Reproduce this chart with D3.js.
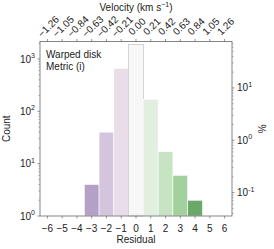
<!DOCTYPE html>
<html lang="en">
<head>
  <meta charset="utf-8">
  <title>Residual histogram</title>
  <script src="https://cdn.jsdelivr.net/npm/d3@7"></script>
  <style>
    body { margin: 0; background: #fff; }
    text { font-family: "Liberation Sans", Arial, sans-serif; fill: #222; }
  </style>
</head>
<body>
<script>
  // data
  const residuals = [-3, -2, -1, 0, 1, 2, 3, 4];
  const counts = [4, 40, 660, 1900, 170, 17, 6, 2];
  const barColors = ["#b5a0c8", "#d4c5df", "#e9dde9", "#f7f7f7", "#e2eee0", "#c6e4c1", "#a2d19e", "#6aa96a"];
  const xTicks = [-6, -5, -4, -3, -2, -1, 0, 1, 2, 3, 4, 5, 6];
  const velLabels = ["\u22121.26", "\u22121.05", "\u22120.84", "\u22120.63", "\u22120.42", "\u22120.21",
    "0.00", "0.21", "0.42", "0.63", "0.84", "1.05", "1.26"];

  const w = 274, h = 249;
  const mLeft = 40, mRight = 232, mTop = 41.5, mBottom = 216;
  const total = d3.sum(counts);
  const yMax = 2160;

  const svg = d3.select("body").append("svg")
    .attr("width", w)
    .attr("height", h);

  const x = d3.scaleLinear().domain([-6.5, 6.5]).range([mLeft, mRight]);
  const y = d3.scaleLog().domain([1, yMax]).range([mBottom, mTop]);
  const yp = d3.scaleLog().domain([100 / total, yMax * 100 / total]).range([mBottom, mTop]);

  // bars
  svg.selectAll("rect.bar")
    .data(residuals)
    .enter()
    .append("rect")
    .attr("class", "bar")
    .attr("x", d => x(d - 0.5))
    .attr("width", x(1) - x(0))
    .attr("y", (d, i) => y(counts[i]))
    .attr("height", (d, i) => mBottom - y(counts[i]))
    .attr("fill", (d, i) => barColors[i])
    .attr("stroke", (d, i) => i === 3 ? "#bdbdbd" : "#ffffff")
    .attr("stroke-width", 0.6);

  const axisColor = "#666";

  // frame
  svg.append("rect")
    .attr("x", mLeft).attr("y", mTop)
    .attr("width", mRight - mLeft).attr("height", mBottom - mTop)
    .attr("fill", "none").attr("stroke", axisColor).attr("stroke-width", 0.8);

  // bottom axis
  const gx = svg.append("g");
  xTicks.forEach(t => {
    gx.append("line").attr("x1", x(t)).attr("x2", x(t)).attr("y1", mBottom).attr("y2", mBottom + 2.5)
      .attr("stroke", axisColor).attr("stroke-width", 0.7);
    gx.append("text").attr("x", x(t)).attr("y", 232).attr("text-anchor", "middle")
      .attr("font-size", 10).text(t < 0 ? "\u2212" + Math.abs(t) : t);
    // top ticks
    gx.append("line").attr("x1", x(t)).attr("x2", x(t)).attr("y1", mTop).attr("y2", mTop - 2.5)
      .attr("stroke", axisColor).attr("stroke-width", 0.7);
  });
  svg.append("text").attr("x", (mLeft + mRight) / 2).attr("y", 243).attr("text-anchor", "middle")
    .attr("font-size", 10).text("Residual");

  // top velocity labels
  velLabels.forEach((lab, i) => {
    svg.append("text")
      .attr("transform", `translate(${x(xTicks[i]) + 1},${26.5}) rotate(-45)`)
      .attr("text-anchor", "middle")
      .attr("dominant-baseline", "central")
      .attr("font-size", 10)
      .text(lab);
  });
  const vt = svg.append("text").attr("x", 136).attr("y", 10.5).attr("text-anchor", "middle").attr("font-size", 10);
  vt.append("tspan").text("Velocity (km s");
  vt.append("tspan").attr("dy", -4).attr("font-size", 7).text("\u22121");
  vt.append("tspan").attr("dy", 4).text(")");

  // log ticks helper
  function logTicks(scale, side, labels) {
    const [d0, d1] = scale.domain();
    const e0 = Math.floor(Math.log10(d0)), e1 = Math.ceil(Math.log10(d1));
    for (let e = e0; e <= e1; e++) {
      for (let m = 1; m <= 9; m++) {
        const v = m * Math.pow(10, e);
        if (v < d0 * 0.999 || v > d1) continue;
        const yy = scale(v);
        const len = m === 1 ? 2.5 : 1.5;
        const x0 = side === "left" ? mLeft : mRight;
        const x1 = side === "left" ? mLeft - len : mRight + len;
        svg.append("line").attr("x1", x0).attr("x2", x1).attr("y1", yy).attr("y2", yy)
          .attr("stroke", axisColor).attr("stroke-width", m === 1 ? 0.7 : 0.5);
        if (m === 1 && labels.includes(e)) {
          const t = svg.append("text").attr("y", yy + 3.5).attr("font-size", 10);
          if (side === "left") t.attr("x", mLeft - 5).attr("text-anchor", "end");
          else t.attr("x", mRight + 5).attr("text-anchor", "start");
          t.append("tspan").text("10");
          t.append("tspan").attr("dy", -4.5).attr("font-size", 7).text(e < 0 ? "-" + Math.abs(e) : e);
        }
      }
    }
  }
  logTicks(y, "left", [0, 1, 2, 3]);
  logTicks(yp, "right", [-1, 0, 1]);

  svg.append("text").attr("transform", `translate(10,${(mTop + mBottom) / 2}) rotate(-90)`)
    .attr("text-anchor", "middle").attr("font-size", 10).text("Count");
  svg.append("text").attr("transform", `translate(266,${(mTop + mBottom) / 2}) rotate(-90)`)
    .attr("text-anchor", "middle").attr("font-size", 10).text("%");

  // annotation
  svg.append("text").attr("x", 46).attr("y", 58).attr("font-size", 10).text("Warped disk");
  svg.append("text").attr("x", 46).attr("y", 70).attr("font-size", 10).text("Metric (i)");
</script>
</body>
</html>
